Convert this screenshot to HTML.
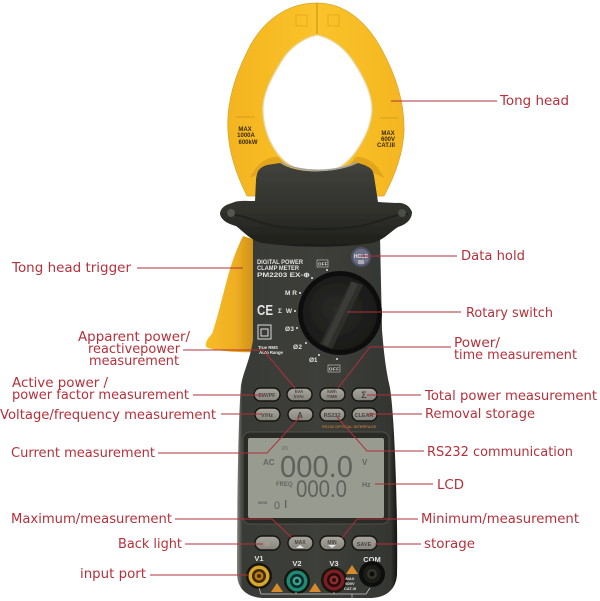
<!DOCTYPE html>
<html><head><meta charset="utf-8"><style>
html,body{margin:0;padding:0;background:#fff;width:600px;height:601px;overflow:hidden}
svg{display:block}
.l{font-family:"DejaVu Sans",sans-serif;font-size:13.5px;fill:#b5303a}
.w{font-family:"Liberation Sans",sans-serif;font-weight:bold;fill:#e2e2e0}
.b{font-family:"Liberation Sans",sans-serif;font-weight:bold;fill:#4a4640;text-anchor:middle}
.k{font-family:"Liberation Sans",sans-serif;font-weight:bold;fill:#3a2a10;text-anchor:middle;font-size:6px}
.d{font-family:"Liberation Sans",sans-serif;fill:#5e625b}
</style></head><body>
<svg width="600" height="601" viewBox="0 0 600 601" xmlns="http://www.w3.org/2000/svg">
<defs>
<linearGradient id="y" x1="0" x2="1" y1="0" y2="0"><stop offset="0" stop-color="#f3b41f"/><stop offset=".5" stop-color="#fbc32a"/><stop offset="1" stop-color="#f4b621"/></linearGradient>
<linearGradient id="t" x1="0" x2="1" y1="0" y2="0"><stop offset="0" stop-color="#f8bc28"/><stop offset=".6" stop-color="#eeae22"/><stop offset="1" stop-color="#c98d18"/></linearGradient>
<linearGradient id="body" x1="0" x2="1" y1="0" y2="0"><stop offset="0" stop-color="#85867f"/><stop offset=".035" stop-color="#383a36"/><stop offset=".5" stop-color="#3e3f3a"/><stop offset=".96" stop-color="#343632"/><stop offset="1" stop-color="#141513"/></linearGradient>
<linearGradient id="fl" x1="0" x2="0" y1="0" y2="1"><stop offset="0" stop-color="#41423d"/><stop offset=".6" stop-color="#2f302b"/><stop offset="1" stop-color="#1e1e19"/></linearGradient>
<linearGradient id="btn" x1="0" x2="0" y1="0" y2="1"><stop offset="0" stop-color="#a9a7a0"/><stop offset="1" stop-color="#84837c"/></linearGradient>
<radialGradient id="knob" cx=".45" cy=".45" r=".6"><stop offset="0" stop-color="#2a2a27"/><stop offset="1" stop-color="#181816"/></radialGradient>
<filter id="s" x="-5%" y="-5%" width="110%" height="110%"><feGaussianBlur stdDeviation=".35"/></filter>
</defs>

<g filter="url(#s)">
<!-- trigger -->
<path d="M243 236 C236 250 232 262 228 276 C222 298 218 316 212 334 C208 338 205 342 206 347 C214 351 240 353 256 352 L256 240 Z" fill="url(#t)"/>
<!-- clamp -->
<path fill-rule="evenodd" fill="url(#y)" stroke="#d9a42a" stroke-width=".7" d="M317 3 C288 3 262 20 247 52 C235 76 226 104 228 132 C229 150 234 170 247 196 L384 196 C398 170 403 150 404 132 C405 100 394 72 382 50 C367 22 345 3 317 3 Z M317 35 C303 38 289 48 281 62 C270 80 262 96 263 112 C264 135 276 160 296 168 C308 172 326 172 338 168 C354 160 371 132 372 110 C372 92 362 74 351 58 C342 46 330 38 317 35 Z"/>
<path d="M317 35 C303 38 289 48 281 62 C270 80 262 96 263 112 C264 135 276 160 296 168 C308 172 326 172 338 168 C354 160 371 132 372 110 C372 92 362 74 351 58 C342 46 330 38 317 35 Z" fill="none" stroke="#e8d9a8" stroke-width="1.3"/>
<path d="M317 3 L317 34" stroke="#b98a1c" stroke-width=".9"/>
<rect x="296" y="15" width="11" height="11" fill="none" stroke="#dfa520" stroke-width=".8"/>
<rect x="328" y="15" width="11" height="11" fill="none" stroke="#dfa520" stroke-width=".8"/>
<path d="M236 117 H255 M380 118 H398" stroke="#c6951f" stroke-width=".8"/>
<path d="M250 178 C256 164 268 156 278 157 L285 164 L262 172 Z M384 178 C378 164 366 156 356 157 L350 164 L372 172 Z" fill="#e2a51c"/>

<!-- body -->
<path d="M253 236 L253 340 C250 360 244 370 241 385 C238 420 237 520 237 575 C238 590 248 597 262 598 L372 598 C388 597 396 588 397 575 C398 520 395 420 390 388 C386 370 384 355 382 330 L380 236 Z" fill="url(#body)"/>
<!-- head and flange -->
<path d="M267 165 C258 168 257 172 256 180 L255 201 C245 201 238 200 232 203 C224 205 220 209 220 214 C221 220 228 224 236 226 C244 232 250 240 262 243 C300 248 340 248 372 243 C384 240 390 232 398 227 C408 224 412 218 412 212 C410 206 404 202 396 203 L378 202 L374 176 C373 168 368 166 358 163 C340 172 300 176 280 163 Z" fill="url(#fl)"/>
<path d="M281 162 C300 174 340 172 357 162" fill="none" stroke="#a3a39b" stroke-width="1.6"/>
<path d="M226 214 C245 214 258 224 275 226 C305 230 335 230 360 226 C376 224 392 214 408 214" fill="none" stroke="#1c1c18" stroke-width="2" opacity=".7"/>
<circle cx="231" cy="213" r="4" fill="#55564f"/><circle cx="402" cy="213" r="4" fill="#4c4d47"/>

<!-- hold button -->
<circle cx="361" cy="257" r="10" fill="#4f5366"/><circle cx="361" cy="257" r="8" fill="#6c7088"/>
<text x="361" y="258" font-size="5" text-anchor="middle" class="w">HOLD</text>
<rect x="358" y="260" width="6" height="4" fill="#c8c8c8" opacity=".7"/>

<!-- dial -->
<circle cx="340" cy="313" r="42" fill="#111110"/>
<circle cx="340" cy="313" r="37" fill="url(#knob)"/>
<path d="M351 281 L363 285 L332 349 L320 344 Z" fill="#2f2f2c"/>
<path d="M352 282 L358 284 L328 346 L323 344 Z" fill="#3b3b37"/>

<!-- panel text -->
<text x="257" y="264" font-size="6" class="w" textLength="46" lengthAdjust="spacingAndGlyphs">DIGITAL POWER</text>
<text x="257" y="270" font-size="6" class="w" textLength="42" lengthAdjust="spacingAndGlyphs">CLAMP METER</text>
<text x="257" y="277" font-size="6.5" class="w" textLength="53" lengthAdjust="spacingAndGlyphs">PM2203  EX-⊕</text>
<text x="318" y="265.5" font-size="4.5" class="w" textLength="9.5">OFF</text>
<rect x="317" y="260" width="11" height="7" fill="none" stroke="#ccc" stroke-width=".6"/>
<text x="285" y="295" font-size="6.5" class="w" textLength="12">MR</text>
<text x="278" y="313" font-size="6.5" class="w" textLength="14">Σ W</text>
<text x="285" y="331" font-size="6.5" class="w" textLength="9">Ø3</text>
<text x="293" y="349" font-size="6.5" class="w" textLength="9">Ø2</text>
<text x="309" y="362" font-size="6.5" class="w" textLength="8.5">Ø1</text>
<text x="329" y="370.5" font-size="4.5" class="w" textLength="10">OFF</text>
<rect x="328" y="365" width="12" height="7" fill="none" stroke="#ccc" stroke-width=".6"/>
<text x="257" y="315" font-size="15" class="w" textLength="16" lengthAdjust="spacingAndGlyphs">CE</text>
<rect x="258" y="325" width="13" height="14" fill="none" stroke="#ddd" stroke-width="1"/>
<rect x="261" y="329" width="7" height="7" fill="none" stroke="#ddd" stroke-width="1"/>
<text x="258" y="349" font-size="4.5" class="w" textLength="20">True RMS</text>
<text x="259" y="354" font-size="4.5" class="w" textLength="24">Auto Range</text>
<g fill="#e5e5e5"><circle cx="327" cy="270" r="1"/><circle cx="312" cy="278" r="1"/><circle cx="300" cy="293" r="1"/><circle cx="295" cy="311" r="1"/><circle cx="297" cy="328" r="1"/><circle cx="306" cy="343" r="1"/><circle cx="319" cy="355" r="1"/><circle cx="337" cy="359" r="1"/></g>

<!-- buttons -->
<g fill="url(#btn)" stroke="#141411" stroke-width="1.4">
<rect x="254" y="388" width="26" height="13" rx="6.5"/><rect x="287" y="388" width="25" height="13" rx="6.5"/><rect x="320" y="388" width="25" height="13" rx="6.5"/><rect x="352" y="388" width="25" height="13" rx="6.5"/>
<rect x="255" y="408" width="25" height="13" rx="6.5"/><rect x="288" y="408" width="25" height="13" rx="6.5"/><rect x="320" y="408" width="25" height="13" rx="6.5"/><rect x="352" y="408" width="25" height="13" rx="6.5"/>
<rect x="255" y="536" width="25" height="14" rx="7"/><rect x="288" y="536" width="25" height="14" rx="7"/><rect x="320" y="536" width="25" height="14" rx="7"/><rect x="352" y="536" width="25" height="14" rx="7"/>
</g>
<text class="b" x="267" y="397" font-size="5.5">ΣW/PF</text>
<text class="b" x="299" y="393" font-size="4.5">kVA</text><text class="b" x="299" y="398" font-size="4.5">kVAr</text>
<text class="b" x="332" y="393" font-size="4.5">kWh</text><text class="b" x="332" y="398" font-size="4.5">TIME</text>
<text class="b" x="364" y="398" font-size="9">Σ</text>
<text class="b" x="267" y="417" font-size="5.5">V/Hz</text>
<text class="b" x="300" y="418" font-size="8">A</text>
<text class="b" x="332" y="417" font-size="5.5">RS232</text>
<text class="b" x="364" y="417" font-size="5.5">CLEAR</text>
<text class="b" x="267" y="546" font-size="8" style="fill:#cdbb6a">☼</text>
<text class="b" x="300" y="544" font-size="5">MAX</text>
<text class="b" x="332" y="544" font-size="5">MIN</text>
<text class="b" x="364" y="546" font-size="5.5">SAVE</text>
<path d="M296 548 L300 545 L304 548 Z M328 545 L336 545 L332 548 Z" fill="#e5e5e5"/>
<text x="322" y="428" font-size="4" font-family="Liberation Sans,sans-serif" font-weight="bold" fill="#b0743a" textLength="54">RS232 OPTICAL INTERFACE</text>

<!-- LCD -->
<rect x="243" y="432" width="146" height="92" rx="7" fill="#2a2b27" stroke="#50514a" stroke-width="1"/>
<rect x="248" y="438" width="136" height="80" rx="2" fill="#989b90"/>
<text x="282" y="450" font-size="5" fill="#6a6e66" font-family="Liberation Sans,sans-serif">Ø1</text>
<text x="263" y="465" font-size="8" font-weight="bold" fill="#62665f" font-family="Liberation Sans,sans-serif">AC</text>
<text x="362" y="465" font-size="8" font-weight="bold" fill="#62665f" font-family="Liberation Sans,sans-serif">V</text>
<text x="280" y="477" font-size="31" class="d" textLength="73" lengthAdjust="spacingAndGlyphs">000.0</text>
<text x="276" y="486" font-size="6" font-weight="bold" fill="#62665f" font-family="Liberation Sans,sans-serif">FREQ</text>
<text x="296" y="497" font-size="24" class="d" textLength="51" lengthAdjust="spacingAndGlyphs">000.0</text>
<text x="362" y="487" font-size="7" font-weight="bold" fill="#62665f" font-family="Liberation Sans,sans-serif">Hz</text>
<text x="258" y="504" font-size="4" font-weight="bold" fill="#62665f" font-family="Liberation Sans,sans-serif">MEM</text>
<text x="274" y="509" font-size="11" class="d">0</text><rect x="285" y="500" width="1.4" height="8" fill="#62665f"/>

<!-- ports -->
<text x="259" y="561" font-size="7.5" class="w" text-anchor="middle">V1</text>
<text x="297" y="566" font-size="7.5" class="w" text-anchor="middle">V2</text>
<text x="334" y="566" font-size="7.5" class="w" text-anchor="middle">V3</text>
<text x="372" y="562" font-size="7.5" class="w" text-anchor="middle">COM</text>
<circle cx="259" cy="576" r="13" fill="#16150f"/><circle cx="259" cy="576" r="10.5" fill="#d9a52a"/><circle cx="259" cy="576" r="7" fill="#3a2a10"/><circle cx="259" cy="576" r="4.5" fill="#b97b18"/><circle cx="259" cy="576" r="2" fill="#4a2a10"/>
<circle cx="297" cy="581" r="13" fill="#16150f"/><circle cx="297" cy="581" r="10.5" fill="#1f8a74"/><circle cx="297" cy="581" r="7" fill="#0e2a28"/><circle cx="297" cy="581" r="4.5" fill="#3aa28e"/><circle cx="297" cy="581" r="2" fill="#0e2a28"/>
<circle cx="334" cy="580" r="13" fill="#16150f"/><circle cx="334" cy="580" r="10.5" fill="#7d1c22"/><circle cx="334" cy="580" r="7" fill="#220c0c"/><circle cx="334" cy="580" r="4.5" fill="#8e2f32"/><circle cx="334" cy="580" r="2" fill="#220c0c"/>
<circle cx="372" cy="574" r="13" fill="#0e0e0c"/><circle cx="372" cy="574" r="9" fill="#1a1a18"/><circle cx="372" cy="574" r="5" fill="#34342f"/><circle cx="372" cy="574" r="2.5" fill="#0a0a0a"/>
<g fill="#d68a2a"><path d="M271 592 L277 583 L283 592 Z"/><path d="M309 592 L315 583 L321 592 Z"/><path d="M346 574 L352 565 L358 574 Z"/></g>
<text x="350" y="580" class="w" font-size="4" text-anchor="middle">MAX</text>
<text x="350" y="585" class="w" font-size="4" text-anchor="middle">600V</text>
<text x="350" y="590" class="w" font-size="4" text-anchor="middle">CAT.III</text>
<path d="M259 588 L261 594 H366 L370 588 M296 594 V592 M334 594 V592 M352 594 V598" fill="none" stroke="#ccc" stroke-width=".7"/>
</g>

<!-- clamp text -->
<text class="k" x="245" y="131">MAX</text><text class="k" x="246" y="137">1000A</text><text class="k" x="248" y="144">600kW</text>
<text class="k" x="388" y="135">MAX</text><text class="k" x="388" y="141">600V</text><text class="k" x="386" y="147">CAT.III</text>

<!-- connectors -->
<g fill="none" stroke="#b0303a" stroke-width="1">
<path d="M391 101 H497"/>
<path d="M137 268 H243"/>
<path d="M360 256 H457"/>
<path d="M347 312 H461"/>
<path d="M183 350 H263 L295 388"/>
<path d="M451 347 H370 L338 388"/>
<path d="M193 395 H263"/>
<path d="M221 414 H262"/>
<path d="M421 395 H367"/>
<path d="M422 414 H367"/>
<path d="M158 453 H267 L300 417"/>
<path d="M424 451 H367 L337 417"/>
<path d="M433 484 H375"/>
<path d="M175 519 H272 L292 538"/>
<path d="M418 519 H357 L342 538"/>
<path d="M185 544 H263"/>
<path d="M421 544 H375"/>
<path d="M150 575 H248"/>
</g>

<!-- labels -->
<text class="l" x="500" y="105" textLength="69" lengthAdjust="spacingAndGlyphs">Tong head</text>
<text class="l" x="461" y="260" textLength="64" lengthAdjust="spacingAndGlyphs">Data hold</text>
<text class="l" x="466" y="317" textLength="87" lengthAdjust="spacingAndGlyphs">Rotary switch</text>
<text class="l" x="454" y="347" textLength="46" lengthAdjust="spacingAndGlyphs">Power/</text>
<text class="l" x="454" y="359" textLength="123" lengthAdjust="spacingAndGlyphs">time measurement</text>
<text class="l" x="425" y="400" textLength="172" lengthAdjust="spacingAndGlyphs">Total power measurement</text>
<text class="l" x="425" y="418" textLength="110" lengthAdjust="spacingAndGlyphs">Removal storage</text>
<text class="l" x="427" y="456" textLength="146" lengthAdjust="spacingAndGlyphs">RS232 communication</text>
<text class="l" x="437" y="489" textLength="27" lengthAdjust="spacingAndGlyphs">LCD</text>
<text class="l" x="421" y="523" textLength="158" lengthAdjust="spacingAndGlyphs">Minimum/measurement</text>
<text class="l" x="424" y="548" textLength="51" lengthAdjust="spacingAndGlyphs">storage</text>
<text class="l" x="12" y="272" textLength="119" lengthAdjust="spacingAndGlyphs">Tong head trigger</text>
<text class="l" x="78" y="341" textLength="112" lengthAdjust="spacingAndGlyphs">Apparent power/</text>
<text class="l" x="88" y="353" textLength="92" lengthAdjust="spacingAndGlyphs">reactivepower</text>
<text class="l" x="89" y="365" textLength="90" lengthAdjust="spacingAndGlyphs">measurement</text>
<text class="l" x="12" y="387" textLength="96" lengthAdjust="spacingAndGlyphs">Active power /</text>
<text class="l" x="12" y="399" textLength="177" lengthAdjust="spacingAndGlyphs">power factor measurement</text>
<text class="l" x="0" y="419" textLength="216" lengthAdjust="spacingAndGlyphs">Voltage/frequency measurement</text>
<text class="l" x="11" y="457" textLength="144" lengthAdjust="spacingAndGlyphs">Current measurement</text>
<text class="l" x="11" y="523" textLength="161" lengthAdjust="spacingAndGlyphs">Maximum/measurement</text>
<text class="l" x="118" y="548" textLength="64" lengthAdjust="spacingAndGlyphs">Back light</text>
<text class="l" x="80" y="578" textLength="66" lengthAdjust="spacingAndGlyphs">input port</text>
</svg>
</body></html>
